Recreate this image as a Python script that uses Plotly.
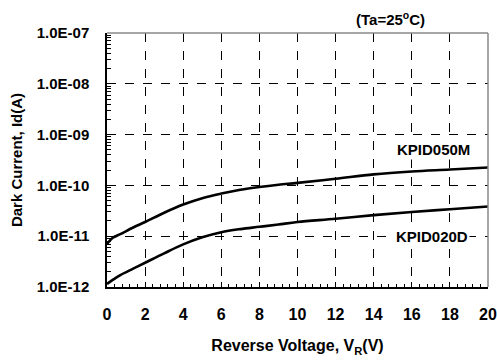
import plotly.graph_objects as go

voltage = [0, 0.3, 0.7, 1.4, 2, 3, 4, 5, 6, 7, 8, 9, 10, 12, 14, 16, 18, 20]
kpid050m = [7.0e-12, 9.3e-12, 1.1e-11, 1.5e-11, 1.9e-11, 2.9e-11, 4.2e-11, 5.6e-11,
            6.9e-11, 8.2e-11, 9.3e-11, 1.03e-10, 1.12e-10, 1.35e-10, 1.65e-10, 1.88e-10,
            2.05e-10, 2.25e-10]
kpid020d = [1.15e-12, 1.38e-12, 1.72e-12, 2.32e-12, 3.0e-12, 4.6e-12, 6.9e-12, 9.5e-12,
            1.2e-11, 1.38e-11, 1.53e-11, 1.7e-11, 1.9e-11, 2.2e-11, 2.6e-11, 3.0e-11,
            3.4e-11, 3.85e-11]
series_names = ["KPID050M", "KPID020D"]
y_tickvals = [1e-12, 1e-11, 1e-10, 1e-9, 1e-8, 1e-7]
y_ticktext = ["1.0E-12", "1.0E-11", "1.0E-10", "1.0E-09", "1.0E-08", "1.0E-07"]
x_tickvals = [0, 2, 4, 6, 8, 10, 12, 14, 16, 18, 20]

FONT = "Arial, Liberation Sans, sans-serif"

y_minor = [m * 10.0 ** e for e in range(-12, -7) for m in range(2, 10)]

fig = go.Figure()
for name, vals in zip(series_names, [kpid050m, kpid020d]):
    fig.add_trace(go.Scatter(x=voltage, y=vals, mode="lines", name=name,
                             line=dict(color="black", width=2.6, shape="spline", smoothing=1.0),
                             showlegend=False, hoverinfo="skip"))

fig.update_layout(
    width=497, height=361,
    margin=dict(l=107, r=9, t=33, b=74, autoexpand=False),
    paper_bgcolor="white", plot_bgcolor="white",
    font=dict(family=FONT, color="black"),
    xaxis=dict(
        range=[0, 20], tickmode="array", tickvals=x_tickvals,
        showline=True, linecolor="black", linewidth=1.5,
        ticks="inside", ticklen=5, tickcolor="black",
        tickfont=dict(size=16, family=FONT, weight="bold"),
        ticklabelstandoff=12,
        showgrid=True, gridcolor="black", griddash="dash", gridwidth=1,
        minor=dict(dtick=0.4, ticks="inside", ticklen=3, tickcolor="black", showgrid=False),
        zeroline=False, automargin=False,
        title=dict(text="Reverse Voltage, V<sub>R</sub>(V)",
                   font=dict(size=16, family=FONT, weight="bold"), standoff=18),
    ),
    yaxis=dict(
        type="log", range=[-12, -7], tickmode="array", tickvals=y_tickvals, ticktext=y_ticktext,
        showline=True, linecolor="black", linewidth=1.5,
        ticks="inside", ticklen=5, tickcolor="black",
        tickfont=dict(size=15, family=FONT, weight="bold"),
        ticklabelstandoff=13,
        showgrid=True, gridcolor="black", griddash="dash", gridwidth=1,
        minor=dict(tickmode="array", tickvals=y_minor, ticks="inside", ticklen=4,
                   tickcolor="black", showgrid=False),
        zeroline=False, automargin=False,
        title=dict(text="Dark Current, Id(A)",
                   font=dict(size=15, family=FONT, weight="bold"), standoff=10),
    ),
)

# gray top and right frame
fig.add_shape(type="line", xref="paper", yref="paper", x0=0, x1=1, y0=1, y1=1,
              line=dict(color="#888888", width=1.5))
fig.add_shape(type="line", xref="paper", yref="paper", x0=1, x1=1, y0=0, y1=1,
              line=dict(color="#888888", width=1.5))

fig.add_annotation(x=17.15, y=-9.30, xref="x", yref="y", text="<b>KPID050M</b>",
                   showarrow=False, font=dict(size=15, family=FONT), bgcolor="white")
fig.add_annotation(x=17.07, y=-11.0, xref="x", yref="y", text="<b>KPID020D</b>",
                   showarrow=False, font=dict(size=15, family=FONT), bgcolor="white")
fig.add_annotation(x=0.8386, y=1.059, xref="paper", yref="paper", yanchor="middle",
                   text="<b>(Ta=25<sup>o</sup>C)</b>",
                   showarrow=False, font=dict(size=15, family=FONT))

fig.write_html("out.html", config={"displayModeBar": False},
               post_script="document.body.style.margin='0';document.body.style.overflow='hidden';")
